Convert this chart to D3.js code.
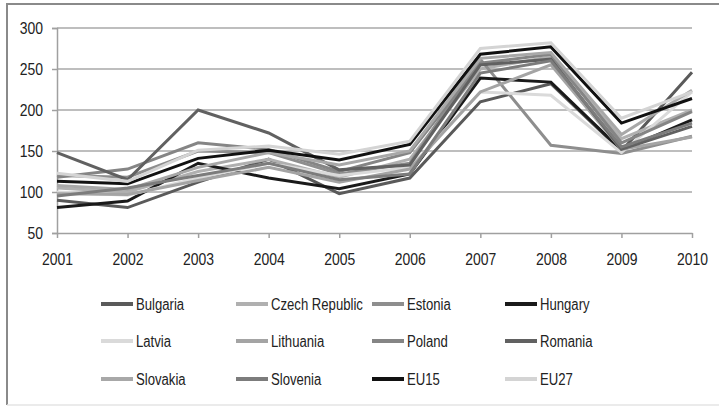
<!DOCTYPE html>
<html><head><meta charset="utf-8">
<script src="https://cdn.jsdelivr.net/npm/d3@7"></script>
<style>
body{margin:0;background:#fff;}
text{font-family:"Liberation Sans",Arial,sans-serif;}
</style></head>
<body><svg id="c" width="719" height="406"></svg>
<script>
const years = [2001,2002,2003,2004,2005,2006,2007,2008,2009,2010];
const yTicks = [50,100,150,200,250,300];
const seriesNames = ["Bulgaria","Czech Republic","Estonia","Hungary","Latvia","Lithuania","Poland","Romania","Slovakia","Slovenia","EU15","EU27"];
const seriesColors = ["#5a5a5a","#b0b0b0","#8e8e8e","#1a1a1a","#dadada","#a4a4a4","#858585","#616161","#a8a8a8","#7c7c7c","#111111","#d4d4d4"];
const bulgaria = [90,81,112,140,98,117,210,232,150,246];
const czech    = [105,100,125,140,118,140,250,265,165,200];
const estonia  = [120,118,150,148,122,135,262,157,147,168];
const hungary  = [81,89,135,117,104,122,239,234,151,188];
const latvia   = [100,96,117,135,120,130,222,218,148,222];
const lithuania= [98,97,114,130,112,128,222,255,152,167];
const poland   = [118,128,160,152,125,148,257,268,160,198];
const romania  = [148,115,200,172,127,133,255,262,152,180];
const slovakia = [108,103,130,148,133,150,263,270,170,224];
const slovenia = [95,105,120,135,115,122,245,260,155,184];
const eu15     = [113,110,141,151,139,158,268,277,184,214];
const eu27     = [123,113,151,156,146,162,275,282,190,222];
const seriesValues = [bulgaria,czech,estonia,hungary,latvia,lithuania,poland,romania,slovakia,slovenia,eu15,eu27];

const svg = d3.select("#c");
const x = d3.scalePoint().domain(years).range([57,692]);
const y = d3.scaleLinear().domain([50,300]).range([233,28]);

function narrow(sel){
  sel.each(function(){
    const w = this.getComputedTextLength();
    d3.select(this).attr("textLength", w*0.82).attr("lengthAdjust","spacingAndGlyphs");
  });
}

// frame
svg.append("line").attr("x1",6).attr("x2",719).attr("y1",4).attr("y2",4).attr("stroke","#8a8a8a").attr("stroke-width",2);
svg.append("line").attr("x1",7).attr("x2",7).attr("y1",3).attr("y2",405).attr("stroke","#8a8a8a").attr("stroke-width",2);
svg.append("line").attr("x1",7).attr("x2",719).attr("y1",405).attr("y2",405).attr("stroke","#e4e4e4").attr("stroke-width",1.5);

// gridlines
svg.append("g").selectAll("line").data(yTicks.filter(d=>d>50)).join("line")
  .attr("x1",57).attr("x2",692).attr("y1",d=>y(d)).attr("y2",d=>y(d))
  .attr("stroke","#a9a9a9").attr("stroke-width",1.5);

// y axis
const ya = svg.append("g").attr("transform","translate(57,0)")
  .call(d3.axisLeft(y).tickValues(yTicks).tickSize(5).tickPadding(9));
ya.select(".domain").attr("stroke","#a0a0a0").attr("stroke-width",1.5);
ya.selectAll(".tick line").attr("stroke","#a0a0a0").attr("stroke-width",1.5);
ya.selectAll("text").attr("font-size",17).attr("fill","#222").attr("font-family","Liberation Sans, Arial, sans-serif").call(narrow);

// x axis
const xa = svg.append("g").attr("transform","translate(0,233)")
  .call(d3.axisBottom(x).tickSize(5).tickPadding(15).tickSizeOuter(0));
xa.select(".domain").attr("stroke","#a0a0a0").attr("stroke-width",1.5);
xa.selectAll(".tick line").attr("stroke","#a0a0a0").attr("stroke-width",1.5);
xa.selectAll("text").attr("font-size",17).attr("fill","#222").attr("font-family","Liberation Sans, Arial, sans-serif").call(narrow);

// lines
const line = d3.line().x((d,i)=>x(years[i])).y(d=>y(d));
svg.append("g").selectAll("path").data(seriesValues).join("path")
  .attr("d",line).attr("fill","none")
  .attr("stroke",(d,i)=>seriesColors[i]).attr("stroke-width",3)
  .attr("stroke-linejoin","miter");

// legend
const colX = [101,236,372,505];
const rowY = [304,341,379];
const lg = svg.append("g").selectAll("g").data(seriesNames).join("g")
  .attr("transform",(d,i)=>`translate(${colX[i%4]},${rowY[Math.floor(i/4)]})`);
lg.append("line").attr("x1",0).attr("x2",32).attr("y1",0).attr("y2",0)
  .attr("stroke",(d,i)=>seriesColors[i]).attr("stroke-width",4);
lg.append("text").attr("x",35).attr("y",0).attr("dy","0.36em")
  .attr("font-size",16).attr("fill","#222").text(d=>d).call(narrow);
</script></body></html>
